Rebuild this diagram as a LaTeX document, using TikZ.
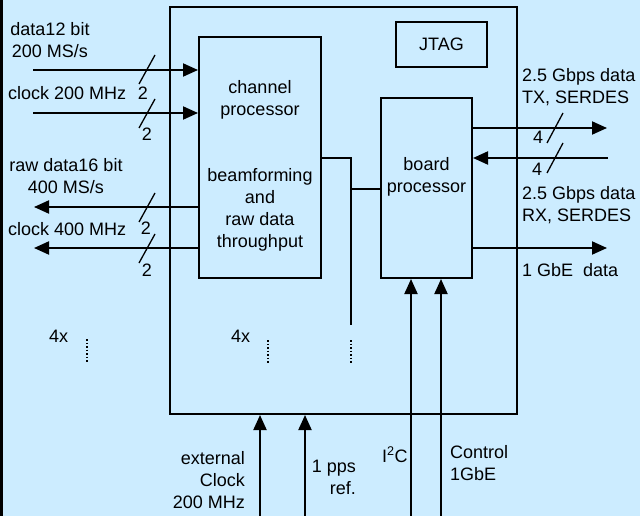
\documentclass[tikz,border=0pt]{standalone}
\usepackage{fontspec}
\setmainfont{Liberation Sans}
\usetikzlibrary{arrows.meta}
\definecolor{panelblue}{RGB}{204,236,255}

\begin{document}
\begin{tikzpicture}[
  x=1pt,y=-1pt,
  font=\fontsize{18}{22}\selectfont,
  blockbox/.style={draw,line width=2pt,inner sep=0pt},
  txt/.style={align=center,inner sep=0pt},
  lbl/.style={inner sep=0pt},
  sig/.style={line width=2pt,-{Triangle[length=15pt,width=13pt]}},
  wire/.style={line width=2pt},
  buswidth/.style={line width=1.3pt},
  buscount/.style={inner sep=0pt},
  dots/.style={line width=1.5pt,dotted},
]

% Background
\fill[panelblue] (0,0) rectangle (640,516);
\fill[black] (0,0) rectangle (3,516);
\useasboundingbox (0,0) rectangle (640,516);

% Blocks
\node[blockbox,minimum width=347pt,minimum height=407pt] (module) at (343.5,210.5) {};
\node[blockbox,minimum width=122pt,minimum height=241pt] (chan) at (260,157.5) {};
\node[txt] (chantext) at (260,166) {channel\\processor\\[44pt]beamforming\\and\\raw data\\throughput};
\node[blockbox,minimum width=91pt,minimum height=180pt] (boardproc) at (426.5,188) {};
\node[txt] (boardtext) at (426.5,177) {board\\processor};
\node[blockbox,minimum width=91pt,minimum height=45pt] (jtag) at (441.5,44.5) {JTAG};

% Channel inputs and outputs
\coordinate (datain) at (33,70);
\coordinate (clkin) at (33,113);
\coordinate (rawout) at (34,207);
\coordinate (clkout) at (34,248);
\draw[sig] (datain) -- (datain -| chan.west);
\draw[sig] (clkin) -- (clkin -| chan.west);
\draw[sig] (rawout -| chan.west) -- (rawout);
\draw[sig] (clkout -| chan.west) -- (clkout);

\draw[buswidth] (139,84) -- (155,55);
\draw[buswidth] (139,128) -- (155,99);
\draw[buswidth] (139,222) -- (155,193);
\draw[buswidth] (139,263) -- (155,234);
\node[buscount] (datan) at (143,93) {2};
\node[buscount] (clkinn) at (147,134) {2};
\node[buscount] (rawn) at (146,228) {2};
\node[buscount] (clkoutn) at (147,270) {2};

\node[txt,anchor=north] (datalbl) at (50,22) {data12 bit\\200 MS/s};
\node[lbl,anchor=base west] (clkinlbl) at (8,100) {clock 200 MHz};
\node[txt,anchor=north] (rawlbl) at (66,158) {raw data16 bit\\400 MS/s};
\node[lbl,anchor=base west] (clkoutlbl) at (8,235) {clock 400 MHz};

% Bus between processors
\coordinate (bustop) at (351,158);
\coordinate (bustap) at (351,189);
\coordinate (busend) at (351,325);
\draw[wire] (bustop -| chan.east) -- (bustop) -- (busend);
\draw[wire] (bustap) -- (bustap -| boardproc.west);

% Board processor links
\coordinate (txout) at (607,128);
\coordinate (rxin) at (608,158);
\coordinate (gbeout) at (607,248);
\draw[sig] (txout -| boardproc.east) -- (txout);
\draw[sig] (rxin) -- (rxin -| boardproc.east);
\draw[sig] (gbeout -| boardproc.east) -- (gbeout);

\draw[buswidth] (547,143) -- (563,113);
\draw[buswidth] (547,173) -- (563,143);
\node[buscount] (txn) at (538,137) {4};
\node[buscount] (rxn) at (537,169) {4};

\node[txt,align=left,anchor=north west] (txlbl) at (522,68) {2.5 Gbps data\\TX, SERDES};
\node[txt,align=left,anchor=north west] (rxlbl) at (522,186) {2.5 Gbps data\\RX, SERDES};
\node[lbl,anchor=base west] (gbelbl) at (522,276) {1 GbE\ \ data};

% Repetition marks
\node[lbl,anchor=base west] (leftrep) at (49,342) {4x};
\node[lbl,anchor=base west] (midrep) at (231,342) {4x};
\draw[dots] (87,339) -- (87,363);
\draw[dots] (268,340) -- (268,363);
\draw[dots] (351,340) -- (351,363);

% Bottom inputs
\coordinate (extclk) at (260,516);
\coordinate (pps) at (305,516);
\coordinate (i2c) at (411,516);
\coordinate (ctrl) at (441,516);
\draw[sig] (extclk) -- (extclk |- module.south);
\draw[sig] (pps) -- (pps |- module.south);
\draw[sig] (i2c) -- (i2c |- boardproc.south);
\draw[sig] (ctrl) -- (ctrl |- boardproc.south);

\node[txt,align=right,anchor=north east] (extclklbl) at (245,451) {external\\Clock\\200 MHz};
\node[txt,align=right,anchor=north east] (ppslbl) at (356,460) {1 pps\\ref.};
\node[lbl,anchor=base west] (i2clbl) at (382,462) {I\textsuperscript{2}C};
\node[txt,align=left,anchor=north west] (ctrllbl) at (450,445) {Control\\1GbE};

\end{tikzpicture}
\end{document}
